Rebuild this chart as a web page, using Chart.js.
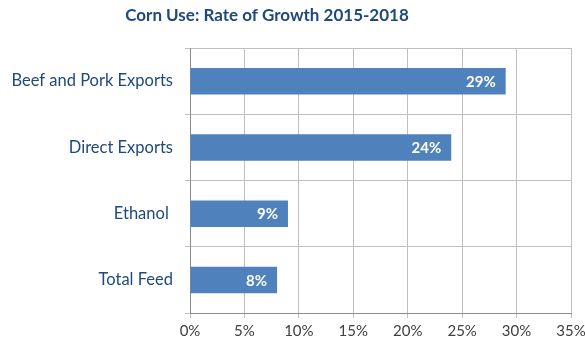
<!DOCTYPE html>
<html>
<head>
<meta charset="utf-8">
<script src="https://cdn.jsdelivr.net/npm/chart.js@4/dist/chart.umd.min.js"></script>
<style>
    html, body { margin: 0; padding: 0; background: #fff; }
    #wrap { width: 585px; height: 345px; position: relative; }
</style>
</head>
<body>
<div id="wrap"><canvas id="growthChart"></canvas></div>
<script>
// Chart data
const categories = ['Beef and Pork Exports', 'Direct Exports', 'Ethanol ', 'Total Feed'];
const growthValues = [29, 24, 9, 8];
const tickValues = [0, 5, 10, 15, 20, 25, 30, 35];

const titleText = 'Corn Use: Rate of Growth 2015-2018';
const barColor = '#4F81BD';
const textBlue = '#1F497D';
const fontFamily = 'Lato, "Open Sans", sans-serif';

// Title drawn at a fixed spot (Excel centres it off the canvas middle)
const titlePlugin = {
    id: 'fixedTitle',
    afterDraw(chart) {
        const ctx = chart.ctx;
        ctx.save();
        ctx.font = 'bold 17px ' + fontFamily;
        ctx.fillStyle = textBlue;
        ctx.textAlign = 'center';
        ctx.textBaseline = 'middle';
        ctx.fillText(titleText, 267, 16);
        ctx.restore();
    }
};

// White value labels at the end of each bar
const valueLabels = {
    id: 'valueLabels',
    afterDatasetsDraw(chart) {
        const ctx = chart.ctx;
        const meta = chart.getDatasetMeta(0);
        ctx.save();
        ctx.font = 'bold 15px ' + fontFamily;
        ctx.fillStyle = '#ffffff';
        ctx.textAlign = 'right';
        ctx.textBaseline = 'middle';
        meta.data.forEach((bar, i) => {
            ctx.fillText(growthValues[i] + '%', bar.x - 10, bar.y + 1);
        });
        ctx.restore();
    }
};

const ctx = document.getElementById('growthChart').getContext('2d');
new Chart(ctx, {
    type: 'bar',
    data: {
        labels: categories,
        datasets: [{
            data: growthValues,
            backgroundColor: barColor,
            borderWidth: 0,
            categoryPercentage: 1,
            barPercentage: 0.4
        }]
    },
    options: {
        indexAxis: 'y',
        responsive: true,
        maintainAspectRatio: false,
        animation: false,
        layout: { padding: { top: 48, right: 14, bottom: 0, left: 0 } },
        plugins: {
            legend: { display: false },
            tooltip: { enabled: false },
            title: { display: false }
        },
        scales: {
            x: {
                min: 0,
                max: 35,
                afterBuildTicks(scale) {
                    scale.ticks = tickValues.map(v => ({ value: v }));
                },
                afterFit(scale) {
                    scale.height = 32;
                    scale.paddingRight = 0;
                    scale.paddingLeft = 0;
                },
                grid: { color: '#bfbfbf', lineWidth: 1, tickLength: 5, drawTicks: true },
                border: { color: '#8c8c8c' },
                ticks: {
                    callback: v => v + '%',
                    color: '#404040',
                    padding: 4,
                    maxRotation: 0,
                    font: { family: fontFamily, size: 15 }
                }
            },
            y: {
                afterFit(scale) { scale.width = 190; },
                grid: { offset: true, color: '#bfbfbf', tickLength: 5 },
                border: { color: '#8c8c8c' },
                ticks: {
                    color: textBlue,
                    padding: 12,
                    font: { family: fontFamily, size: 16.5 }
                }
            }
        }
    },
    plugins: [titlePlugin, valueLabels]
});
</script>
</body>
</html>
